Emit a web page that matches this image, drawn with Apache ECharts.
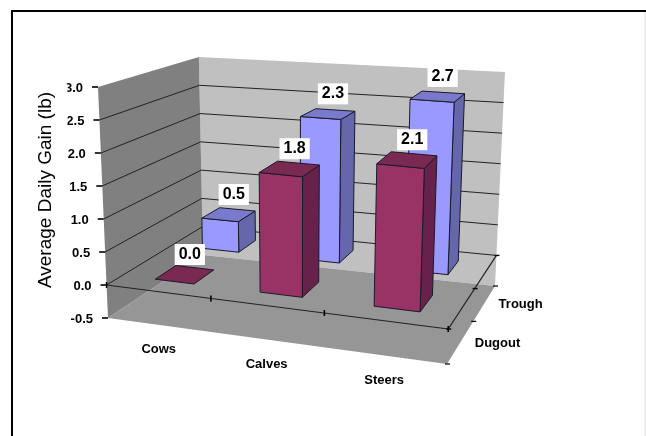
<!DOCTYPE html>
<html>
<head>
<meta charset="utf-8">
<style>html,body{margin:0;padding:0;background:#fff}#chart{width:646px;height:436px}</style>
<script src="https://cdn.jsdelivr.net/npm/echarts@6/dist/echarts.min.js"></script>
</head>
<body>
<div id="chart"></div>
<script>
// Average daily gain by cattle class and water source
const categories = ['Cows', 'Calves', 'Steers'];
const depthLabels = ['Dugout', 'Trough'];
const dugoutValues = [0.0, 1.8, 2.1];
const troughValues = [0.5, 2.3, 2.7];
const valueTicks = [-0.5, 0, 0.5, 1, 1.5, 2, 2.5, 3];
const axisTitle = 'Average Daily Gain (lb)';

const FONT = '"Liberation Sans", Arial, sans-serif';
const CW = 646, CH = 436;

// Perspective frame of the plot box: floor corners ordered front-left, front-right,
// back-right, back-left, the full height of the box at each corner, and the point
// that vertical edges converge on.
const floorPlane = [[108, 318], [447, 364], [495, 286], [203, 255]];
const cornerHeights = [231, 245, 214, 198];
const verticalVanish = [294, 4610];

function homography(q) {
  const [[x0, y0], [x1, y1], [x2, y2], [x3, y3]] = q;
  const dx1 = x1 - x2, dx2 = x3 - x2, sx = x0 - x1 + x2 - x3;
  const dy1 = y1 - y2, dy2 = y3 - y2, sy = y0 - y1 + y2 - y3;
  const den = dx1 * dy2 - dx2 * dy1;
  const g = (sx * dy2 - dx2 * sy) / den, h = (dx1 * sy - sx * dy1) / den;
  const a = x1 - x0 + g * x1, b = x3 - x0 + h * x3;
  const d = y1 - y0 + g * y1, e = y3 - y0 + h * y3;
  return (u, v) => {
    const k = g * u + h * v + 1;
    return [(a * u + b * v + x0) / k, (d * u + e * v + y0) / k];
  };
}
const floorAt = homography(floorPlane);

// u: along categories, v: front to back, w: bottom to top of the value range
function project(u, v, w) {
  const p = floorAt(u, v);
  const [h0, h1, h2, h3] = cornerHeights;
  const h = w * ((1 - u) * (1 - v) * h0 + u * (1 - v) * h1 + u * v * h2 + (1 - u) * v * h3);
  const lean = (p[0] - verticalVanish[0]) / (verticalVanish[1] - p[1]);
  return [p[0] + lean * h, p[1] - h];
}

// Library scales hand back pixels in a full-canvas grid; normalise them for the box.
const valueToW = (api, val) => (CH - api.coord([0, val])[1]) / CH;
const catToU = (api, idx) => api.coord([idx, 0])[0] / CW;

const poly = (points, fill, stroke, lineWidth) => ({
  type: 'polygon', shape: { points },
  style: { fill, stroke: stroke || 'none', lineWidth: lineWidth || 0 }
});
const seg = (a, b, stroke, lineWidth) => ({
  type: 'line', shape: { x1: a[0], y1: a[1], x2: b[0], y2: b[1] },
  style: { stroke, lineWidth: lineWidth || 1, fill: 'none' }
});
const label = (text, x, y, align, size, extra) => ({
  type: 'text',
  z2: 50,
  style: Object.assign({
    text, x, y, align, verticalAlign: 'middle',
    fontFamily: FONT, fontWeight: 'bold', fontSize: size, fill: '#000'
  }, extra || {})
});

function renderFrame(params, api) {
  const w0 = valueToW(api, 0);
  const fl = project(0, 0, w0), fr = project(1, 0, w0), br = project(1, 1, w0);
  const children = [
    poly([project(0, 1, 0), project(1, 1, 0), project(1, 1, 1), project(0, 1, 1)], '#C0C0C0'),
    poly([project(0, 0, 0), project(0, 1, 0), project(0, 1, 1), project(0, 0, 1)], '#808080'),
    poly([project(0, 0, 0), project(1, 0, 0), project(1, 1, 0), project(0, 1, 0)], '#969696'),
    seg(fl, fr, '#222', 1.2),
    seg(fr, br, '#222', 1.2)
  ];
  // Ticks on the zero line and along the floor edge
  categories.concat('').forEach((c, i) => {
    const p = project(i / categories.length, 0, w0);
    children.push(seg([p[0], p[1] - 3], [p[0], p[1] + 3], '#000', 1.6));
  });
  depthLabels.concat('').forEach((c, i) => {
    const v = i / depthLabels.length;
    const p = project(1, v, w0), q = project(1, v, 0);
    children.push(seg([p[0] - 2, p[1]], [p[0] + 3, p[1]], '#000', 1.4));
    children.push(seg([q[0] - 2, q[1]], [q[0] + 3, q[1]], '#000', 1.2));
  });
  categories.forEach((c, i) => {
    const p = project((i + 0.5) / categories.length, 0, 0);
    children.push(label(c, p[0], p[1] + 25, 'center', 13));
  });
  depthLabels.forEach((c, i) => {
    const p = project(1, (i + 0.5) / depthLabels.length, 0);
    children.push(label(c, p[0] + 14, p[1] + 2, 'left', 13));
  });
  return { type: 'group', children };
}

function renderValueTick(params, api) {
  const val = api.value(1);
  const w = valueToW(api, val);
  const front = project(0, 0, w), back = project(0, 1, w), right = project(1, 1, w);
  const edge = val === 3 || val === -0.5;
  const children = [
    seg([front[0] - 6, front[1]], front, '#000', 1.6),
    label(val.toFixed(1), front[0] - 15, front[1] + 1, 'right', 13, { z2: 1 })
  ];
  if (!edge) {
    children.push(seg(front, back, '#222', 1), seg(back, right, '#222', 1));
  }
  return { type: 'group', children };
}

// Bar width and depth as fractions of one category band and one depth row
const BAR_WIDTH = 0.38, BAR_DEPTH = 0.42, BAR_SHIFT = 0.006;
const barColours = [
  { front: '#993366', top: '#7A2952', side: '#66224A' },
  { front: '#9999FF', top: '#7A7ACC', side: '#6666AA' }
];

function renderBar(params, api) {
  const idx = api.value(0), val = api.value(1), row = api.value(2);
  const band = api.size([1, 0])[0] / CW;
  const c = catToU(api, idx) + BAR_SHIFT;
  const u0 = c - band * BAR_WIDTH / 2, u1 = c + band * BAR_WIDTH / 2;
  const rowDepth = 1 / depthLabels.length;
  const vc = (row + 0.5) * rowDepth;
  const v0 = vc - rowDepth * BAR_DEPTH / 2, v1 = vc + rowDepth * BAR_DEPTH / 2;
  const wb = valueToW(api, 0), wt = valueToW(api, val);
  const col = barColours[row];
  const ink = '#1a1a2a';
  const top = [project(u0, v0, wt), project(u1, v0, wt), project(u1, v1, wt), project(u0, v1, wt)];
  const children = [];
  if (val !== 0) {
    children.push(poly([project(u1, v0, wb), project(u1, v1, wb), top[2], top[1]], col.side, ink, 1));
    children.push(poly([project(u0, v0, wb), project(u1, v0, wb), top[1], top[0]], col.front, ink, 1));
  }
  children.push(poly(top, col.top, ink, 1));
  const mid = project((u0 + u1) / 2, (v0 + v1) / 2, wt);
  children.push(label(val.toFixed(1), mid[0] + 5, mid[1] - 20, 'center', 16, {
    backgroundColor: '#fff', padding: [3, 4, 2, 4]
  }));
  return { type: 'group', children };
}

const barSeries = (name, values, row) => ({
  type: 'custom', name,
  coordinateSystem: 'cartesian2d',
  renderItem: renderBar,
  encode: { x: 0, y: 1 },
  silent: true,
  data: values.map((v, i) => [i, v, row])
});

const chart = echarts.init(document.getElementById('chart'), null, { renderer: 'canvas' });
chart.setOption({
  animation: false,
  backgroundColor: '#fff',
  grid: { left: 0, top: 0, width: CW, height: CH },
  xAxis: { type: 'category', data: categories, show: false },
  yAxis: { type: 'value', min: -0.5, max: 3, interval: 0.5, show: false },
  graphic: [
    { type: 'rect', z: 90, shape: { x: 12, y: 11, width: 640, height: 430 }, style: { fill: 'none', stroke: '#000', lineWidth: 2 } },
    { type: 'line', z: 90, shape: { x1: 645, y1: 12, x2: 645, y2: 436 }, style: { stroke: '#ddd', lineWidth: 1 } },
    {
      type: 'text', z: 95, x: 46, y: 190, rotation: Math.PI / 2,
      style: {
        text: axisTitle, align: 'center', verticalAlign: 'middle',
        fontFamily: FONT, fontSize: 19, fill: '#000',
        backgroundColor: '#fff', padding: [12, 8, 12, 8]
      }
    }
  ],
  series: [
    {
      type: 'custom', coordinateSystem: 'cartesian2d', silent: true,
      renderItem: renderFrame, encode: { x: 0, y: 1 }, data: [[0, 0]]
    },
    {
      type: 'custom', coordinateSystem: 'cartesian2d', silent: true,
      renderItem: renderValueTick, encode: { x: 0, y: 1 },
      data: valueTicks.map(t => [0, t])
    },
    barSeries('Trough', troughValues, 1),
    barSeries('Dugout', dugoutValues, 0)
  ]
});
</script>
</body>
</html>
